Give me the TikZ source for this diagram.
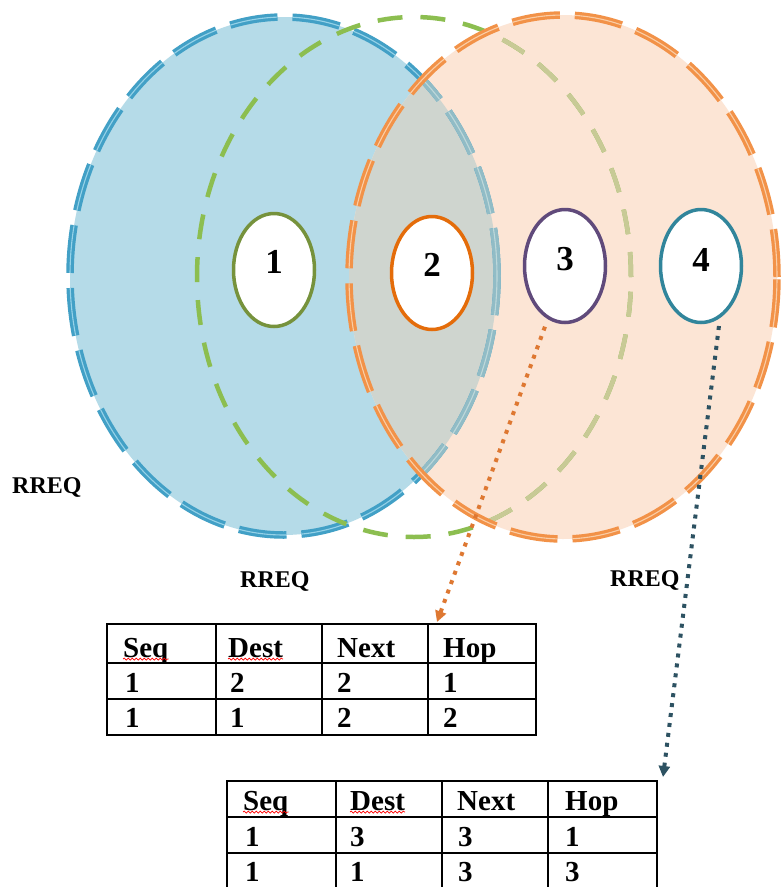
\documentclass[tikz,border=0pt]{standalone}
\usepackage{fontspec}
\setmainfont{Liberation Serif}
\usetikzlibrary{shapes.geometric,arrows.meta,decorations.pathmorphing}
\definecolor{bfill}{RGB}{181,219,232}
\definecolor{ofill}{RGB}{252,229,213}
\definecolor{gfill}{RGB}{207,213,207}
\definecolor{bline}{RGB}{66,160,198}
\definecolor{blinein}{RGB}{150,210,232}
\definecolor{bfade}{RGB}{145,188,198}
\definecolor{bfadein}{RGB}{190,216,218}
\definecolor{oline}{RGB}{242,146,72}
\definecolor{olinein}{RGB}{250,205,165}
\definecolor{gline}{RGB}{140,190,80}
\definecolor{gfade}{RGB}{200,202,150}
\definecolor{nonec}{RGB}{118,146,60}
\definecolor{ntwoc}{RGB}{228,108,10}
\definecolor{nthreec}{RGB}{96,74,123}
\definecolor{nfourc}{RGB}{49,133,155}
\definecolor{aonec}{RGB}{222,120,50}
\definecolor{atwoc}{RGB}{45,82,98}
\begin{document}
\begin{tikzpicture}[x=1pt,y=-1pt,
  bigdash/.style={line width=7.5pt, dash pattern=on 48pt off 15pt},
  biginner/.style={line width=1.1pt, dash pattern=on 48pt off 15pt},
  gdash/.style={line width=4.5pt, dash pattern=on 25pt off 18pt},
  station/.style={ellipse, draw, line width=3.5pt, fill=white, minimum width=81pt, minimum height=113pt, inner sep=0pt, font=\fontsize{35}{35}\selectfont\bfseries},
  tabtxt/.style={anchor=base west, inner sep=0pt, font=\fontsize{29}{29}\selectfont\bfseries},
  rreq/.style={anchor=base west, inner sep=0pt, font=\fontsize{24}{24}\selectfont\bfseries},
  gridline/.style={line width=1.6pt, black},
  dotarrow/.style={line width=4pt, dash pattern=on 4pt off 6pt, shorten <=8pt, -{Triangle[length=11pt,width=11pt]}},
  spell/.style={red, line width=0.7pt, decorate, decoration={snake, amplitude=1pt, segment length=4pt}}
]
\fill[white] (0,0) rectangle (781,887);
\useasboundingbox (0,0) rectangle (781,887);
% region fills
\fill[bfill] (283.5,276) ellipse [x radius=213.5pt, y radius=259pt];
\fill[ofill] (563,277) ellipse [x radius=214pt, y radius=262pt];
\begin{scope}
  \clip (283.5,276) ellipse [x radius=213.5pt, y radius=259pt];
  \fill[gfill] (563,277) ellipse [x radius=214pt, y radius=262pt];
\end{scope}
% outlines
\draw[bigdash, draw=bline] (283.5,276) ellipse [x radius=213.5pt, y radius=259pt];
\draw[biginner, draw=blinein] (283.5,276) ellipse [x radius=213.5pt, y radius=259pt];
\draw[gdash, draw=gline] (414,277) ellipse [x radius=217pt, y radius=260pt];
\begin{scope}
  \clip (563,277) ellipse [x radius=214pt, y radius=262pt];
  \draw[bigdash, draw=bfade] (283.5,276) ellipse [x radius=213.5pt, y radius=259pt];
  \draw[biginner, draw=bfadein] (283.5,276) ellipse [x radius=213.5pt, y radius=259pt];
  \draw[gdash, draw=gfade] (414,277) ellipse [x radius=217pt, y radius=260pt];
\end{scope}
\draw[bigdash, draw=oline] (563,277) ellipse [x radius=214pt, y radius=262pt];
\draw[biginner, draw=olinein] (563,277) ellipse [x radius=214pt, y radius=262pt];
% stations
\node[station, draw=nonec] (n1) at (274,270) {\raisebox{-3pt}[0pt][0pt]{1}};
\node[station, draw=ntwoc] (n2) at (432,273) {\raisebox{-3pt}[0pt][0pt]{2}};
\node[station, draw=nthreec] (n3) at (565,266) {\raisebox{-4pt}[0pt][0pt]{3}};
\node[station, draw=nfourc] (n4) at (701,266) {\raisebox{-5pt}[0pt][0pt]{4}};
% labels
\node[rreq] (r1) at (12,493) {RREQ};
\node[rreq] (r2) at (240,587) {RREQ};
\node[rreq] (r3) at (610,586) {RREQ};
% arrows
\coordinate (tonein) at (437,622);
\coordinate (ttwoin) at (663,777);
\draw[dotarrow, aonec] (n3.252) -- (tonein);
\draw[dotarrow, atwoc] (n4.290) -- (ttwoin);
% table 1
\draw[gridline] (107,624) rectangle (536,735);
\draw[gridline] (107,663) -- (536,663) (107,699) -- (536,699);
\draw[gridline] (216,624) -- (216,735) (322,624) -- (322,735) (428,624) -- (428,735);
\node[tabtxt] (aseq) at (123,657) {Seq};
\node[tabtxt] (adest) at (228,657) {Dest};
\node[tabtxt] (anext) at (337,657) {Next};
\node[tabtxt] (ahop) at (443,657) {Hop};
\node[tabtxt] at (125,692) {1};
\node[tabtxt] at (230,692) {2};
\node[tabtxt] at (337,692) {2};
\node[tabtxt] at (443,692) {1};
\node[tabtxt] at (125,727) {1};
\node[tabtxt] at (230,727) {1};
\node[tabtxt] at (337,727) {2};
\node[tabtxt] at (443,727) {2};
\draw[spell] ([yshift=-2pt]aseq.base west) -- ([yshift=-2pt]aseq.base east);
\draw[spell] ([yshift=-2pt]adest.base west) -- ([yshift=-2pt]adest.base east);
% table 2
\draw[gridline] (227,890) -- (227,781) -- (657,781) -- (657,890);
\draw[gridline] (227,817) -- (657,817) (227,853) -- (657,853);
\draw[gridline] (336,781) -- (336,890) (442,781) -- (442,890) (548,781) -- (548,890);
\node[tabtxt] (bseq) at (243,810) {Seq};
\node[tabtxt] (bdest) at (350,810) {Dest};
\node[tabtxt] (bnext) at (457,810) {Next};
\node[tabtxt] (bhop) at (565,810) {Hop};
\node[tabtxt] at (245,846) {1};
\node[tabtxt] at (350,846) {3};
\node[tabtxt] at (458,846) {3};
\node[tabtxt] at (565,846) {1};
\node[tabtxt] at (245,881) {1};
\node[tabtxt] at (350,881) {1};
\node[tabtxt] at (458,881) {3};
\node[tabtxt] at (565,881) {3};
\draw[spell] ([yshift=-2pt]bseq.base west) -- ([yshift=-2pt]bseq.base east);
\draw[spell] ([yshift=-2pt]bdest.base west) -- ([yshift=-2pt]bdest.base east);
\end{tikzpicture}
\end{document}
